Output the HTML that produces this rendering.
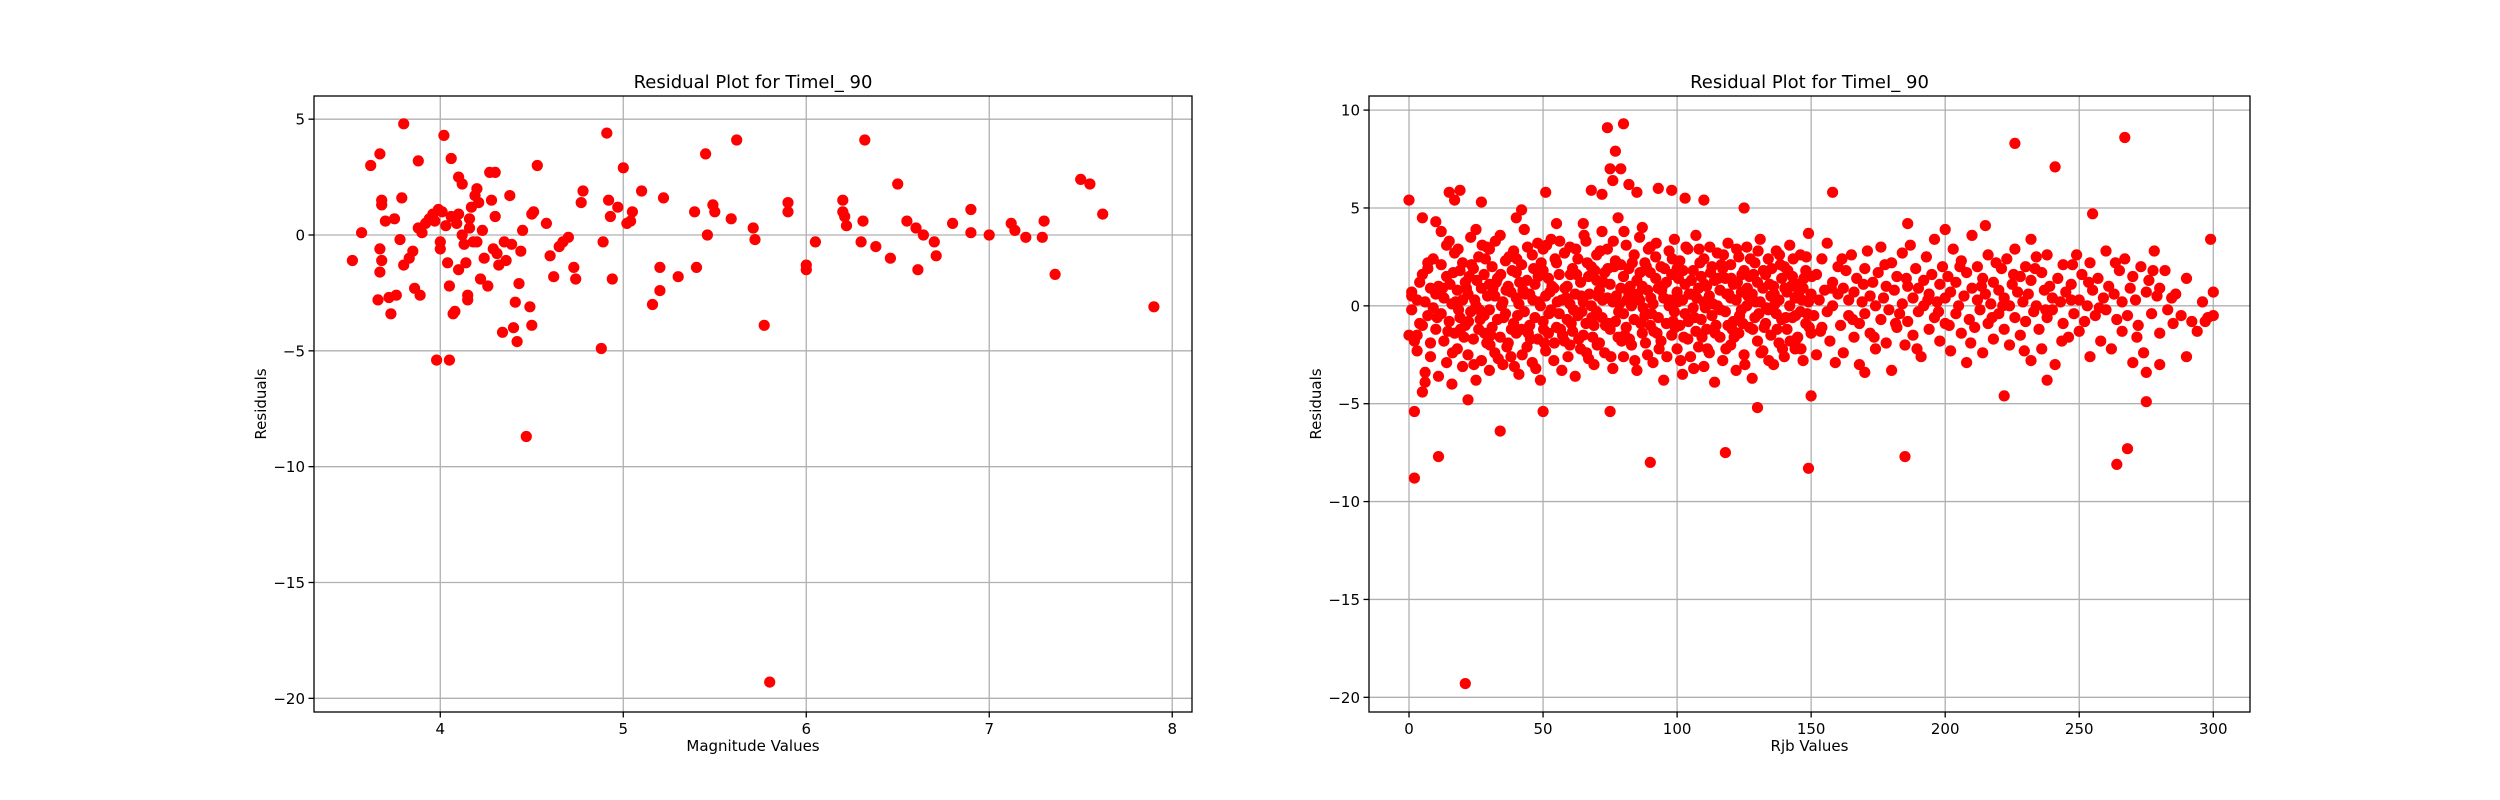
<!DOCTYPE html>
<html><head><meta charset="utf-8"><style>
html,body{margin:0;padding:0;background:#fff;}
svg{display:block;font-family:"DejaVu Sans","Liberation Sans",sans-serif;}
</style></head><body>
<svg id="fig" width="2500" height="800" viewBox="0 0 2500 800" xmlns="http://www.w3.org/2000/svg">
<rect width="2500" height="800" fill="#fff"/>
<g id="left"></g>
<g id="right"></g>
</svg>
<script>
const magnitudeValues=[3.52,3.57,3.62,3.66,3.67,3.68,3.68,3.67,3.67,3.68,3.7,3.72,3.73,3.75,3.76,3.78,3.8,3.79,3.8,3.83,3.85,3.86,3.88,3.88,3.89,3.9,3.92,3.94,3.96,3.97,3.98,3.99,4.0,4.0,4.01,4.02,4.03,4.04,4.05,4.05,4.06,4.06,4.07,4.08,4.09,4.1,4.1,4.1,4.12,4.12,4.13,4.14,4.15,4.15,4.16,4.16,4.17,4.18,4.19,4.2,4.2,4.21,4.22,4.23,4.24,4.26,4.27,4.28,4.29,4.3,4.3,4.31,4.32,4.34,4.35,4.36,4.38,4.39,4.4,4.41,4.42,4.43,4.44,4.45,4.47,4.49,4.5,4.5,4.51,4.53,4.58,4.6,4.62,4.65,4.67,4.7,4.73,4.74,4.77,4.78,4.88,4.89,4.91,4.92,4.93,4.94,4.97,5.0,5.02,5.04,5.05,5.1,5.16,5.2,5.2,5.22,5.3,5.39,5.4,5.45,5.46,5.49,5.5,5.59,5.62,5.71,5.72,5.77,5.8,5.9,5.9,6.0,6.0,6.05,6.2,6.2,6.21,6.22,6.3,6.31,6.32,6.38,6.46,6.5,6.55,6.6,6.61,6.64,6.7,6.71,6.8,6.9,6.9,7.0,7.12,7.14,7.2,7.29,7.3,7.36,7.5,7.55,7.62,7.9];
const magnitudeResiduals=[-1.1,0.1,3.0,-2.8,3.5,1.5,1.3,-0.6,-1.6,-1.1,0.6,-2.7,-3.4,0.7,-2.6,-0.2,4.8,1.6,-1.3,-1.0,-0.7,-2.3,3.2,0.3,-2.6,0.1,0.5,0.7,0.9,0.6,-5.4,1.1,-0.3,-0.6,1.0,4.3,0.4,-1.2,-5.4,-2.2,3.3,0.8,-3.4,-3.3,0.5,-1.5,2.5,0.9,2.2,0,-0.4,-1.2,-2.8,-2.6,0.3,0.7,1.2,-0.3,1.7,2.0,-0.3,1.4,-1.9,0.2,-1.0,-2.2,2.7,1.5,-0.6,2.7,0.8,-0.8,-1.3,-4.2,-0.3,-1.1,1.7,-0.4,-4.0,-2.9,-4.6,-2.1,-0.7,0.2,-8.7,-3.1,-3.9,0.9,1.0,3.0,0.5,-0.9,-1.8,-0.5,-0.3,-0.1,-1.4,-1.9,1.4,1.9,-4.9,-0.3,4.4,1.5,0.8,-1.9,1.2,2.9,0.5,0.6,1.0,1.9,-3.0,-1.4,-2.4,1.6,-1.8,1.0,-1.4,3.5,0,1.3,1.0,0.7,4.1,0.3,-0.2,-3.9,-19.3,1.0,1.4,-1.5,-1.3,-0.3,1.5,1.0,0.8,0.4,-0.3,0.6,4.1,-0.5,-1.0,2.2,0.6,0.3,-1.5,0,-0.3,-0.9,0.5,1.1,0.1,0,0.5,0.2,-0.1,-0.1,0.6,-1.7,2.4,2.2,0.9,-3.1];
const magXTicks=[4,5,6,7,8];
const magYTicks=[5,0,-5,-10,-15,-20];

const rjbPoints=[
[0,5.4],[1,0.7],[2,-5.4],[2,-8.8],[3,-1.5],[5,4.5],[5,-4.4],[6,-3.9],[7,2.2],[8,-1.9],[10,4.3],[11,-7.7],[12,3.8],[14,3.1],[15,5.8],[17,5.4],[19,5.9],[21,-19.3],[22,-4.8],[25,3.9],[27,5.3],[30,2.9],[34,-6.4],[40,4.5],[42,4.9],[50,-5.4],[51,5.8],[55,4.2],[65,4.2],[68,5.9],[72,5.7],[74,9.1],[75,7.0],[77,7.9],[76,6.4],[80,9.3],[82,6.2],[79,7.0],[75,-5.4],[85,5.8],[87,4.0],[90,-8.0],[93,6.0],[98,5.9],[103,5.5],[110,5.4],[118,-7.5],[125,5.0],[130,-5.2],[149,-8.3],[150,-4.6],[158,5.8],[170,-3.4],[185,-7.7],[186,4.2],[200,3.9],[215,4.1],[222,-4.6],[226,8.3],[232,3.4],[238,-3.8],[241,7.1],[247,0.3],[255,4.7],[264,-8.1],[267,8.6],[268,-7.3],[275,-4.9],[280,-3.0],[290,-2.6],[299,3.4],[300,0.7],[300,-0.5],[297,-0.8],
[0,-1.5],[1,-0.2],[1,0.5],[2,-1.8],[3,0.3],[3,-2.3],[4,1.2],[4,-0.9],[5,-1.0],[5,1.6],[6,0.2],[6,-3.4],[7,-0.5],[7,1.9],[8,0.9],[8,-2.6],[9,-0.1],[9,2.4],[10,-1.2],[10,0.6],
[11,-3.6],[11,1.0],[12,-0.4],[12,2.1],[13,-1.8],[13,0.4],[14,-2.9],[14,1.5],[15,-0.8],[15,3.3],[16,0.1],[16,-4.0],[17,-1.4],[17,2.7],[18,0.8],[18,-2.2],[19,-0.6],[19,1.8],[20,-3.1],[20,0.3],[20,2.2],
[21,-1.0],[21,1.2],[22,-2.5],[22,0.6],[23,3.5],[23,-0.3],[24,-1.7],[24,1.9],[25,-3.8],[25,0.0],[26,2.5],[26,-1.2],[27,0.9],[27,-2.8],[28,-0.5],[28,1.6],[29,3.0],[29,-1.9],[30,-0.2],[30,1.1],[30,-3.3],
[31,2.0],[31,-1.1],[32,0.5],[32,-2.4],[33,1.4],[33,-0.7],[34,3.6],[34,-1.6],[35,0.2],[35,-3.0],[36,2.3],[36,-0.4],[37,-1.9],[37,1.0],[38,0.7],[38,-2.6],[39,2.8],[39,-0.9],[40,-1.4],[40,0.4],[40,1.7],
[41,-3.5],[41,0.1],[42,2.1],[42,-1.2],[43,3.9],[43,-0.3],[44,-2.1],[44,1.3],[45,0.6],[45,-1.0],[46,2.6],[46,-2.9],[47,-0.6],[47,1.1],[48,3.2],[48,-1.7],[49,0.0],[49,-3.8],[50,1.8],[50,-0.8],[50,2.9],
[51,-2.3],[51,0.5],[52,1.4],[52,-1.4],[53,3.4],[53,-0.2],[54,-2.8],[54,0.9],[55,2.2],[55,-1.1],[56,-0.4],[56,1.6],[57,-3.3],[57,0.3],[58,2.7],[58,-1.8],[59,1.0],[59,-0.7],[60,3.0],[60,-2.0],[60,0.1],
[61,-1.3],[61,1.9],[62,-3.6],[62,0.6],[63,2.4],[63,-0.5],[64,-2.2],[64,1.2],[65,0.2],[65,-1.5],[66,3.3],[66,-0.9],[67,1.5],[67,-2.7],[68,0.0],[68,2.0],[69,-1.0],[69,-3.0],[70,1.3],[70,-0.3],[70,2.6],
[71,-1.9],[71,0.8],[72,3.8],[72,-0.6],[73,1.7],[73,-2.4],[74,0.4],[74,2.9],[75,-1.2],[75,1.1],[76,-3.2],[76,0.2],[77,2.3],[77,-0.8],[78,4.5],[78,-1.6],[79,0.9],[79,2.1],[80,-0.4],[80,-2.6],[80,1.5],
[81,3.1],[81,-1.1],[82,0.6],[82,1.9],[83,-2.0],[83,0.0],[84,2.6],[84,-0.7],[85,1.3],[85,-3.3],[86,0.3],[86,3.5],[87,-1.4],[87,1.0],[88,2.2],[88,-0.5],[89,-2.5],[89,0.8],[90,1.7],[90,-1.0],[90,3.0],
[91,0.1],[91,-2.9],[92,1.4],[92,2.5],[93,-0.6],[93,0.9],[94,-1.8],[94,2.0],[95,0.4],[95,-3.8],[96,1.2],[96,-0.9],[97,2.8],[97,0.0],[98,-1.5],[98,1.6],[99,-0.3],[99,3.4],[100,-2.2],[100,0.7],[100,1.9],
[101,-1.0],[101,2.3],[102,0.3],[102,-3.5],[103,1.1],[103,-0.4],[104,2.9],[104,-1.7],[105,0.6],[105,-2.6],[106,1.8],[106,-0.1],[107,3.6],[107,-1.3],[108,0.9],[108,-2.1],[109,1.5],[109,-0.7],[110,2.4],[110,-3.1],[110,0.2],
[111,-1.2],[111,1.0],[112,-2.4],[112,0.5],[113,2.0],[113,-0.5],[114,1.3],[114,-3.9],[115,0.0],[115,2.7],[116,-1.6],[116,0.8],[117,1.9],[117,-2.8],[118,-0.3],[118,1.4],[119,3.2],[119,-1.0],[120,0.4],[120,-2.0],[120,2.1],
[121,-0.8],[121,1.1],[122,-3.3],[122,0.3],[123,2.5],[123,-1.4],[124,0.7],[124,-0.2],[125,1.8],[125,-2.5],[126,3.0],[126,0.0],[127,-1.1],[127,1.5],[128,-3.7],[128,0.6],[129,2.2],[129,-0.6],[130,1.2],[130,-1.8],
[131,0.2],[131,3.4],[132,-2.3],[132,0.9],[133,1.6],[133,-0.9],[134,-0.2],[134,2.4],[135,-1.5],[135,0.5],[136,1.0],[136,-3.0],[137,2.8],[137,-0.4],[138,0.3],[138,-1.9],[139,1.4],[139,-0.7],[140,2.0],[140,-2.6],
[141,0.7],[141,-1.2],[142,3.1],[142,0.0],[143,-0.6],[143,1.5],[144,-2.2],[144,0.4],[145,1.1],[145,-1.6],[146,2.6],[146,-0.3],[147,0.9],[147,-2.8],[148,1.8],[148,-0.9],[149,0.2],[149,3.7],[150,-1.4],[150,0.6],
[151,-0.5],[152,1.6],[152,-2.5],[153,0.3],[154,2.4],[154,-1.1],[155,0.8],[156,-0.3],[156,3.2],[157,-1.8],[158,1.2],[158,0.0],[159,-2.9],[160,0.6],[160,2.0],
[161,-1.0],[162,0.9],[162,-2.4],[163,1.8],[164,-0.5],[164,0.3],[165,2.6],[166,-1.6],[166,0.7],[167,1.4],[168,-0.9],[168,-3.0],[169,0.2],[170,1.9],[170,-0.4],
[171,2.8],[172,-1.4],[172,0.5],[173,1.2],[174,-2.2],[174,0.0],[175,1.7],[176,-0.7],[176,3.0],[177,0.4],[178,-1.9],[178,1.0],[179,-0.2],[180,2.2],[180,-3.3],
[181,0.8],[182,-1.1],[182,1.5],[183,-0.4],[184,2.7],[184,0.1],[185,-2.0],[186,1.0],[186,-0.8],[187,3.1],[188,0.4],[188,-1.5],[189,1.9],[190,-0.3],[190,0.9],
[191,-2.6],[192,1.3],[192,0.0],[193,2.5],[194,-1.2],[194,0.6],[195,1.6],[196,-0.6],[196,3.4],[197,0.2],[198,-1.8],[198,1.1],[199,2.0],[200,-0.9],[200,0.4],
[201,1.5],[202,-2.3],[202,0.7],[203,2.9],[204,-0.4],[204,1.2],[205,0.0],[206,-1.4],[206,2.3],[207,0.5],[208,-2.9],[208,1.7],[209,-0.7],[210,0.9],[210,3.6],
[211,-1.1],[212,0.3],[212,2.0],[213,-0.2],[214,1.4],[214,-2.4],[215,0.6],[216,2.6],[216,-0.9],[217,0.1],[218,1.2],[218,-1.7],[219,2.2],[220,-0.4],[220,0.8],
[221,1.9],[222,-1.2],[222,0.4],[223,2.4],[224,-2.0],[224,0.0],[225,1.1],[226,-0.6],[226,2.9],[227,0.7],[228,-1.5],[228,1.5],[229,0.2],[230,-0.8],[230,2.0],
[231,0.6],[232,-2.8],[232,1.3],[233,-0.3],[234,2.5],[234,0.0],[235,-1.2],[236,1.7],[236,-2.2],[237,0.8],[238,2.6],[238,-0.6],[239,1.0],[240,-0.2],[240,0.4],
[241,-3.0],[242,1.4],[243,0.2],[244,-0.9],[244,2.1],[245,0.7],[246,-1.6],[247,1.1],[248,-0.4],[249,2.6],[250,0.3],[250,-1.3],
[251,1.6],[252,-0.8],[253,0.0],[254,2.2],[254,-2.6],[255,0.8],[256,-0.5],[257,1.4],[258,-1.8],[259,0.4],[260,2.8],[260,-0.2],
[261,1.0],[262,-2.2],[263,0.6],[264,-0.7],[265,1.8],[266,-1.3],[266,0.2],[267,2.4],[268,-0.5],[269,0.9],[270,-2.9],[270,1.5],
[271,0.3],[272,-1.0],[273,2.0],[274,-2.4],[275,0.7],[275,-3.4],[276,1.3],[277,-0.4],[278,2.8],[279,0.5],[280,-1.4],[280,0.9],
[282,1.8],[283,-0.2],[285,-0.9],[286,0.6],[288,-0.5],[290,1.4],[292,-0.8],[294,-1.3],[296,0.2],[298,-0.6],
[10.5,-0.6],[12.5,0.9],[14.5,-1.3],[16.5,1.7],[18.5,-0.2],[20.5,-1.6],[22.5,1.5],[24.5,0.3],[26.5,-0.7],[28.5,2.4],[30.5,-1.5],[32.5,1.2],[34.5,0.0],[36.5,-2.1],[38.5,1.8],[40.5,-0.5],[42.5,0.8],[44.5,-1.4],[46.5,1.9],[48.5,0.2],[50.5,-1.9],[52.5,0.7],[54.5,2.4],[56.5,-1.2],[58.5,0.4],[60.5,-0.9],[62.5,1.6],[64.5,-0.3],[66.5,2.2],[68.5,-1.6],[70.5,0.5],[72.5,1.2],[74.5,-0.9],[76.5,2.0],[78.5,0.1],[80.5,-1.5],[82.5,1.0],[84.5,0.3],[86.5,-0.9],[88.5,2.0],[90.5,-0.4],[92.5,-1.4],[94.5,1.0],[96.5,0.3],[98.5,-0.8],[100.5,1.4],[102.5,-1.6],[104.5,0.6],[106.5,-0.6],[108.5,2.2],[110.5,-0.1],[112.5,1.7],[114.5,-1.0],[116.5,2.1],[118.5,0.6],[120.5,-1.2],[122.5,1.2],[124.5,-0.9],[126.5,0.5],[128.5,1.6],[130.5,-0.4],[132.5,-1.1],[134.5,1.1],[136.5,0.1],[138.5,2.1],[140.5,-0.6],[142.5,1.0],[144.5,-1.7],[146.5,0.3],[148.5,-0.4],
[15.3,1.1],[16.2,-2.4],[17.4,0.2],[18.3,2.9],[19.2,-1.2],[21.4,0.9],[22.2,-0.8],[23.3,2.1],[24.2,-3.0],[25.3,1.3],[26.2,-0.2],[27.3,3.1],[28.2,-1.4],[29.3,0.5],[30.2,-2.0],[31.3,0.9],[32.2,3.3],[33.3,-2.7],[34.2,1.6],[35.3,-0.6],[36.2,0.8],[37.3,2.5],[38.2,-1.2],[39.3,-3.1],[40.2,2.4],[41.3,1.2],[42.2,-2.5],[43.3,0.6],[44.2,3.0],[45.3,-1.7],[46.2,0.3],[47.3,-3.2],[48.2,1.5],[49.3,2.2],[50.2,-1.2],[51.3,3.1],[52.2,-0.4],[53.3,1.0],[54.2,-1.9],[55.3,0.2],[56.2,3.3],[57.3,-1.5],[58.2,0.9],[59.3,-2.6],[60.2,1.6],[61.3,-0.2],[62.2,2.9],[63.3,-1.7],[64.2,0.5],[65.3,3.6],[66.2,-2.4],[67.3,0.6],[68.2,-0.6],[69.3,1.8],[70.2,-2.0],[71.3,2.8],[72.2,0.3],[73.3,-1.0],[74.2,1.9],[75.3,-2.6],[76.2,3.3],[77.3,0.5],[78.2,-0.3],[79.3,-1.8],[80.2,3.8],[81.3,0.3],[82.2,-1.7],[83.3,2.2],[84.2,-2.8],[85.3,0.6],[86.2,1.7],[87.3,-0.1],[88.2,-1.9],[89.3,2.9],[90.2,0.4],[91.3,-1.3],[92.2,3.2],[93.3,-2.2],[94.2,0.8],[95.3,1.9],[96.2,-2.6],[97.3,0.3],[98.2,2.4],[99.3,-1.1],[100.2,0.2],[101.3,-2.8],[102.2,1.8],[103.3,3.0],[104.2,-0.8],[105.3,1.3],[106.2,-3.2],[107.3,0.4],[108.2,2.9],[109.3,-1.6],[110.2,1.1],[111.3,-2.2],[112.2,3.0],[113.3,0.1],[114.2,-1.4],[115.3,1.4],[116.2,-0.2],[117.3,2.6],[118.2,-2.2],[119.3,0.6],[120.2,1.4],[121.3,-1.6],[122.2,2.9],[123.3,-0.5],[124.2,1.6],[125.3,-3.0],[126.2,0.9],[127.3,2.4],[128.2,-1.2],[129.3,0.2],[130.2,2.8],[131.3,-2.4],[132.2,1.8],[133.3,-0.1],[134.2,-2.8],[135.3,1.9],[136.2,0.6],[137.3,-1.2],[138.2,2.6],[139.3,-2.2],[140.2,0.9],[141.3,1.8],[142.2,-1.8],[143.3,2.4],[144.2,-0.5],[145.3,0.6],[146.2,-2.2],[147.3,1.4],[148.2,2.5],[149.3,-1.1],[150.2,1.5],
[153.5,-1.3],[157.5,0.9],[161.5,2.4],[165.5,-0.7],[169.5,1.1],[173.5,-1.6],[177.5,2.1],[181.5,-0.9],[185.5,1.4],[189.5,-2.2],[193.5,0.3],[197.5,-0.3],[201.5,-1.0],[205.5,2.0],[209.5,-1.9],[213.5,1.0],[217.5,-0.6],[221.5,0.0],[225.5,1.6],[229.5,-2.3],[233.5,1.9],[237.5,-0.2],[243.5,-1.8],[247.5,2.1],[253.5,1.2],[257.5,-0.1],[263.5,2.2],[271.5,-1.6],[277.5,1.8],[284.5,0.4]
];
const rjbValues=rjbPoints.map(p=>p[0]);
const rjbResiduals=rjbPoints.map(p=>p[1]);
const rjbXTicks=[0,50,100,150,200,250,300];
const rjbYTicks=[10,5,0,-5,-10,-15,-20];

const NS="http://www.w3.org/2000/svg";
function mk(tag,attrs,parent){const e=document.createElementNS(NS,tag);for(const k in attrs)e.setAttribute(k,attrs[k]);parent.appendChild(e);return e;}
function fmt(v){return v<0?"\u2212"+Math.abs(v):String(v);}

function drawPlot(g,box,xd,yd,xs,ys,xt,yt,title,xlabel,ylabel){
  const X=v=>box.x0+(v-xd[0])/(xd[1]-xd[0])*(box.x1-box.x0);
  const Y=v=>box.y1-(v-yd[0])/(yd[1]-yd[0])*(box.y1-box.y0);
  const grid=mk("g",{},g);
  
  
  xt.forEach(t=>{mk("line",{x1:X(t),x2:X(t),y1:box.y0,y2:box.y1,stroke:"#b0b0b0","stroke-width":1.3},grid);});
  yt.forEach(t=>{mk("line",{x1:box.x0,x2:box.x1,y1:Y(t),y2:Y(t),stroke:"#b0b0b0","stroke-width":1.3},grid);});
  const pts=mk("g",{},g);
  
  
  for(let i=0;i<xs.length;i++){
    const c=mk("circle",{cx:X(xs[i]).toFixed(1),cy:Y(ys[i]).toFixed(1),r:5.6,fill:"#ff0000"},pts);
    
    
  }
  const fr=mk("rect",{x:box.x0,y:box.y0,width:box.x1-box.x0,height:box.y1-box.y0,fill:"none",stroke:"#000","stroke-width":1.3},g);
  
  
  xt.forEach(t=>{
    mk("line",{x1:X(t),x2:X(t),y1:box.y1,y2:box.y1+5.5,stroke:"#000","stroke-width":1.3},g);
    const tx=mk("text",{x:X(t),y:box.y1+22,"text-anchor":"middle","font-size":15,fill:"#000"},g);
    tx.textContent=fmt(t);
    
    
  });
  yt.forEach(t=>{
    mk("line",{x1:box.x0-5.5,x2:box.x0,y1:Y(t),y2:Y(t),stroke:"#000","stroke-width":1.3},g);
    const tx=mk("text",{x:box.x0-9,y:Y(t)+5.5,"text-anchor":"end","font-size":15,fill:"#000"},g);
    tx.textContent=fmt(t);
    
    
  });
  const cx=(box.x0+box.x1)/2;
  const ti=mk("text",{x:cx,y:88,"text-anchor":"middle","font-size":18,fill:"#000"},g);
  ti.textContent=title;
  
  
  const xl=mk("text",{x:cx,y:751,"text-anchor":"middle","font-size":15,fill:"#000"},g);
  xl.textContent=xlabel;
  
  
  const ly=(box.y0+box.y1)/2;
  const yl=mk("text",{x:0,y:0,"text-anchor":"middle","font-size":15,fill:"#000",transform:`translate(${box.x0-48},${ly}) rotate(-90)`},g);
  yl.textContent=ylabel;
  
  
}
drawPlot(document.getElementById("left"),{x0:314,x1:1192,y0:96,y1:712},[3.31,8.108],[-20.59,6.0],
  magnitudeValues,magnitudeResiduals,magXTicks,magYTicks,"Residual Plot for TimeI_ 90","Magnitude Values","Residuals");
drawPlot(document.getElementById("right"),{x0:1369,x1:2250,y0:96,y1:712},[-14.93,313.7],[-20.75,10.72],
  rjbValues,rjbResiduals,rjbXTicks,rjbYTicks,"Residual Plot for TimeI_ 90","Rjb Values","Residuals");
</script>
</body></html>
